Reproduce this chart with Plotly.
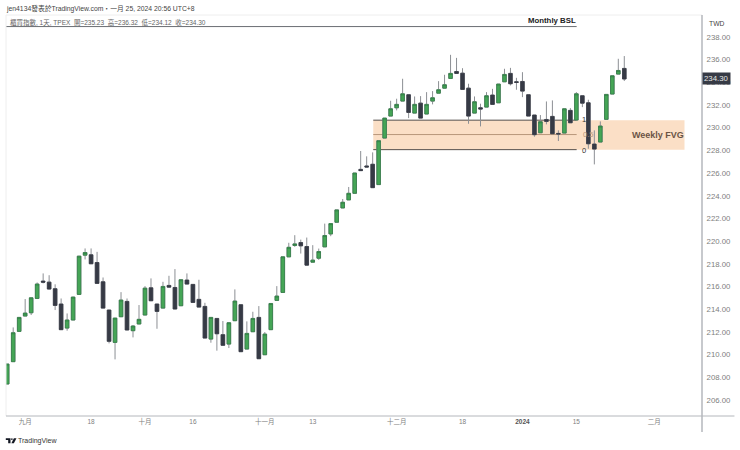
import plotly.graph_objects as go

## Datos (barra diaria, 櫃買指數)
opens = [207.41, 209.38, 212.05, 213.40, 213.69, 214.95, 216.48, 216.39, 215.81, 214.46,
         212.34, 213.05, 215.31, 218.77, 218.80, 218.12, 216.42, 213.93, 211.08, 213.34,
         214.69, 212.11, 212.70, 213.49, 215.89, 214.46, 214.10, 216.10, 215.92, 214.31,
         216.57, 216.19, 214.87, 214.25, 211.37, 213.19, 211.76, 210.93, 212.99, 214.40,
         210.49, 212.02, 213.28, 209.99, 212.20, 214.78, 215.48, 218.62, 219.62, 219.88,
         219.53, 218.15, 218.50, 219.50, 220.64, 221.67, 222.93, 223.64, 224.22, 226.33,
         226.63, 226.78, 224.99, 229.09, 231.03, 231.76, 232.35, 232.91, 231.29, 232.17,
         231.21, 232.35, 233.05, 233.49, 234.35, 234.96, 234.81, 233.49, 231.29, 231.76,
         231.82, 232.88, 232.20, 234.05, 234.79, 234.05, 234.08, 232.91, 231.12, 229.56,
         230.73, 231.00, 229.50, 229.53, 231.53, 230.68, 232.82, 232.20, 228.56, 228.74,
         230.74, 232.97, 234.73, 235.23]
highs = [209.17, 212.40, 213.28, 214.90, 215.01, 216.36, 217.16, 217.00, 216.20, 214.95,
         213.63, 215.10, 218.68, 219.36, 219.36, 219.06, 216.80, 213.93, 213.22, 215.51,
         214.95, 212.60, 214.37, 216.04, 216.72, 214.46, 216.42, 216.95, 217.54, 216.60,
         217.16, 216.19, 216.60, 214.57, 213.30, 213.19, 212.96, 212.87, 215.75, 214.40,
         212.93, 213.78, 214.28, 211.99, 214.51, 216.04, 218.62, 219.86, 220.53, 220.14,
         220.32, 219.65, 219.35, 221.55, 221.55, 222.76, 223.72, 224.78, 226.01, 227.95,
         227.48, 227.83, 228.86, 230.85, 232.38, 232.56, 234.32, 232.91, 232.76, 232.79,
         233.14, 233.23, 234.11, 234.67, 236.43, 236.16, 235.25, 233.88, 232.76, 232.12,
         233.14, 233.43, 233.85, 235.20, 235.28, 234.40, 234.90, 232.91, 231.12, 231.12,
         232.32, 232.41, 229.77, 231.67, 231.73, 233.14, 232.82, 232.47, 229.77, 230.56,
         232.94, 234.58, 236.08, 236.32]
lows = [207.41, 209.38, 212.05, 213.40, 213.49, 214.90, 216.28, 215.75, 213.93, 212.20,
        212.11, 213.05, 215.31, 218.39, 218.00, 216.28, 214.10, 210.99, 209.58, 213.34,
        212.17, 211.52, 212.70, 213.49, 214.75, 212.28, 214.10, 215.95, 214.02, 214.31,
        216.22, 214.60, 214.19, 211.46, 211.05, 210.35, 210.82, 210.58, 212.99, 210.26,
        210.49, 212.02, 209.64, 209.99, 212.20, 214.78, 215.48, 218.62, 219.50, 218.91,
        217.89, 218.15, 218.35, 219.50, 220.44, 221.67, 222.93, 223.64, 224.22, 226.22,
        226.54, 224.72, 224.99, 229.09, 231.03, 231.53, 232.35, 230.85, 231.29, 230.85,
        231.21, 232.06, 233.05, 233.49, 234.35, 234.79, 233.38, 230.35, 231.29, 230.12,
        231.82, 232.06, 232.20, 234.05, 233.73, 233.35, 232.70, 231.03, 229.21, 229.56,
        230.30, 229.47, 228.83, 229.53, 230.44, 230.68, 231.82, 228.15, 226.77, 228.74,
        230.74, 232.97, 234.73, 234.12]
closes = [209.17, 211.93, 213.28, 213.66, 215.01, 216.22, 216.39, 215.78, 214.34, 212.20,
          213.05, 215.07, 218.68, 219.00, 218.01, 216.28, 214.10, 211.17, 213.22, 214.81,
          212.17, 212.52, 213.11, 215.86, 214.75, 213.81, 216.01, 215.95, 214.02, 216.60,
          216.22, 214.60, 214.19, 211.46, 213.28, 211.84, 210.82, 212.81, 214.72, 210.26,
          211.87, 213.19, 209.64, 211.81, 214.51, 215.16, 218.62, 219.46, 219.76, 219.59,
          217.89, 218.33, 219.09, 220.50, 221.55, 222.76, 223.43, 224.22, 226.01, 226.22,
          226.54, 224.72, 228.86, 230.85, 231.67, 232.06, 232.99, 231.35, 232.06, 230.85,
          232.06, 232.64, 233.35, 233.79, 234.79, 234.79, 233.38, 231.03, 232.29, 231.65,
          232.82, 232.06, 233.85, 234.70, 233.88, 234.00, 233.23, 231.03, 229.39, 230.53,
          230.56, 229.47, 229.45, 231.67, 230.44, 232.99, 232.17, 228.59, 228.12, 230.15,
          232.94, 234.58, 235.05, 234.30]

bars = list(range(len(opens)))

y_ticks = [206, 208, 210, 212, 214, 216, 218, 220, 222, 224, 226, 228, 230, 232, 234, 236, 238]
x_ticks = [3, 14, 23, 31, 43, 51, 65, 76, 86, 95, 108]
x_labels = ['九月', '18', '十月', '16', '十一月', '13', '十二月', '18',
            '<b><span style="color:#555">2024</span></b>', '15', '二月']

fvg_top = 230.67
fvg_mid = 229.40
fvg_bottom = 228.07
bsl_level = 238.92
last_close = 234.30

W, H = 740, 450
M_L, M_R, M_T, M_B = 5.5, 37.5, 14.5, 34
FONT = 'Liberation Sans, Noto Sans CJK TC, sans-serif'


def px(x):  # pixel -> paper
    return (x - M_L) / (W - M_L - M_R)


def py(y):
    return 1 - (y - M_T) / (H - M_T - M_B)


def label(text, x, y, size=8.5, color='#666', anchor='left', **kw):
    return dict(text=text, x=px(x), y=py(y), xref='paper', yref='paper', showarrow=False,
                xanchor=anchor, yanchor='middle', font=dict(size=size, color=color, family=FONT), **kw)


fig = go.Figure()

# mechas grises debajo, cuerpos encima
fig.add_trace(go.Candlestick(x=bars, open=opens, high=highs, low=lows, close=closes,
                             whiskerwidth=0,
                             increasing=dict(line=dict(color='#8c8f94', width=1), fillcolor='#8c8f94'),
                             decreasing=dict(line=dict(color='#8c8f94', width=1), fillcolor='#8c8f94'),
                             showlegend=False, hoverinfo='skip'))
fig.add_trace(go.Candlestick(x=bars, open=opens, close=closes,
                             high=[max(o, c) for o, c in zip(opens, closes)],
                             low=[min(o, c) for o, c in zip(opens, closes)],
                             whiskerwidth=0,
                             increasing=dict(line=dict(color='#2f7d45', width=0.7), fillcolor='#45a556'),
                             decreasing=dict(line=dict(color='#363a45', width=0.7), fillcolor='#363a45'),
                             showlegend=False))

shapes = [
    dict(type='rect', x0=61.1, x1=113.05, y0=fvg_bottom, y1=fvg_top, xref='x', yref='y',
         fillcolor='#fbdfc6', line_width=0, layer='below'),
    dict(type='line', x0=61.1, x1=95.05, y0=fvg_top, y1=fvg_top, xref='x', yref='y',
         line=dict(color='#55504c', width=1), layer='below'),
    dict(type='line', x0=61.1, x1=95.05, y0=fvg_mid, y1=fvg_mid, xref='x', yref='y',
         line=dict(color='#b8977a', width=1), layer='below'),
    dict(type='line', x0=61.1, x1=95.05, y0=fvg_bottom, y1=fvg_bottom, xref='x', yref='y',
         line=dict(color='#55504c', width=1), layer='below'),
    dict(type='line', x0=-0.2, x1=95.05, y0=bsl_level, y1=bsl_level, xref='x', yref='y',
         line=dict(color='#6a6d73', width=1), layer='below'),
    # marco del grafico
    dict(type='line', x0=px(5.5), x1=px(702.5), y0=1, y1=1, xref='paper', yref='paper',
         line=dict(color='#eeeeee', width=1)),
    dict(type='line', x0=px(5.5), x1=px(5.5), y0=0, y1=1, xref='paper', yref='paper',
         line=dict(color='#eeeeee', width=1)),
    dict(type='line', x0=px(702.5), x1=px(702.5), y0=py(432), y1=1, xref='paper', yref='paper',
         line=dict(color='#b4b7bc', width=1.5)),
    dict(type='line', x0=px(5.5), x1=px(735), y0=0, y1=0, xref='paper', yref='paper',
         line=dict(color='#b4b7bc', width=1)),
    # logo TradingView
    dict(type='path', xref='paper', yref='paper', fillcolor='#131722', line_width=0,
         path='M {} {} L {} {} L {} {} L {} {} L {} {} L {} {} Z'.format(
             px(5.3), py(438.3), px(10), py(438.3), px(10), py(443.4),
             px(7.7), py(443.4), px(7.7), py(440), px(5.3), py(440))),
    dict(type='path', xref='paper', yref='paper', fillcolor='#131722', line_width=0,
         path='M {} {} L {} {} L {} {} L {} {} Z'.format(
             px(13.4), py(438.3), px(16), py(438.3), px(13.4), py(443.4), px(10.9), py(443.4))),
    dict(type='circle', xref='paper', yref='paper', fillcolor='#131722', line_width=0,
         x0=px(10.6), x1=px(12.2), y0=py(440), y1=py(438.4)),
]

annotations = [
    label('jen4134發表於TradingView.com・一月 25, 2024 20:56 UTC+8', 3, 8, size=6.8, color='#444'),
    label('櫃買指數, 1天, TPEX  開=235.23  高=236.32  低=234.12  收=234.30', 8, 22, size=6.5, color='#666'),
    label('<b>Monthly BSL</b>', 552, 20, size=7.8, color='#222', anchor='center'),
    label('<b>Weekly FVG</b>', 658, 135, size=9, color='#6b5445', anchor='center'),
    label('1', 584, 119.5, size=7.5, color='#333', anchor='center'),
    label('0.5', 581, 134.5, size=7.5, color='#b8977a'),
    label('0', 584, 150, size=7.5, color='#333', anchor='center'),
    label('TWD', 718, 23, size=6.8, color='#444', anchor='center'),
    label('234.30', 717.5, 78.5, size=7.8, color='#e8e8e8', anchor='center', bgcolor='#363a45', borderpad=1),
    label('TradingView', 16, 441, size=7, color='#333'),
]

fig.update_layout(
    width=W, height=H,
    margin=dict(l=M_L, r=M_R, t=M_T, b=M_B, autoexpand=False),
    paper_bgcolor='white', plot_bgcolor='white',
    showlegend=False,
    boxgap=0.15,
    font=dict(family=FONT, size=7.8, color='#808080'),
    xaxis=dict(range=[-0.2, 115.97], tickmode='array', tickvals=x_ticks, ticktext=x_labels,
               tickfont=dict(size=6.5),
               showgrid=False, zeroline=False, showline=False, ticks='', rangeslider_visible=False),
    yaxis=dict(range=[204.59, 239.94], side='right', tickmode='array', tickvals=y_ticks,
               tickformat='.2f', showgrid=False, zeroline=False, showline=False, ticks='outside',
               ticklen=2, tickcolor='rgba(0,0,0,0)'),
    shapes=shapes,
    annotations=annotations,
)

fig.write_html("out.html", config=dict(displayModeBar=False), post_script="document.body.style.margin='0';")
